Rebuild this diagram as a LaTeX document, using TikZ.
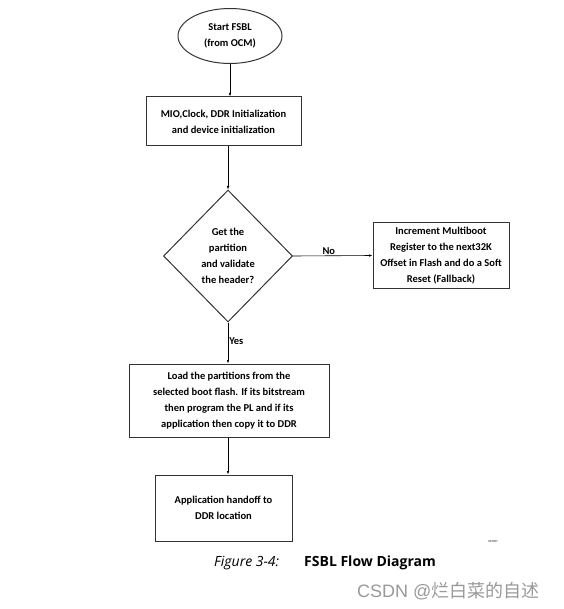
\documentclass[tikz,border=0pt]{standalone}
\usepackage{fontspec}
\setmainfont{Carlito}
\newfontfamily\capfont{Open Sans}
\newfontfamily\cjk{Noto Sans CJK SC}
\newfontfamily\markfont{Liberation Sans}
\usetikzlibrary{shapes.geometric,arrows.meta}

\begin{document}
\begin{tikzpicture}[x=1pt,y=-1pt,
  box/.style={draw=black!80,line width=1pt,align=center,inner sep=0pt,
    font=\bfseries\fontsize{10.5}{16}\selectfont},
  flow/.style={-{Latex[length=3.5pt,width=2.5pt]},line width=0.6pt},
  tag/.style={font=\bfseries\fontsize{10.5}{11}\selectfont,inner sep=1pt}]
\useasboundingbox (0,0) rectangle (563,609);

% Start and init
\node[box,ellipse,minimum width=104pt,minimum height=55pt] (start) at (230,36) {Start FSBL\\(from OCM)};
\node[box,minimum width=155pt,minimum height=49pt] (init) at (223.5,121.5) {MIO,Clock, DDR Initialization\\and device initialization};

% Decision and fallback
\node[box,diamond,minimum width=129pt,minimum height=132pt] (check) at (228,256) {Get the\\partition\\and validate\\the header?};
\node[box,minimum width=136pt,minimum height=65pt] (fallback) at (441,255.5) {Increment Multiboot\\Register to the next32K\\Offset in Flash and do a Soft\\Reset (Fallback)};

% Load and handoff
\node[box,minimum width=200pt,minimum height=73pt] (load) at (229,400.5) {Load the partitions from the\\selected boot flash. If its bitstream\\then program the PL and if its\\application then copy it to DDR};
\node[box,minimum width=137pt,minimum height=66pt] (handoff) at (223.5,508) {Application handoff to\\DDR location};

% Connectors
\draw[flow] (start.south) -- (start.south |- init.north);
\draw[flow] (init.south -| check.north) -- (check.north);
\draw[flow] (check.east) -- node[tag,above,pos=0.45] (no) {No} (fallback.west);
\draw[flow] (check.south) -- node[tag,right,pos=0.45] (yes) {Yes} (check.south |- load.north);
\draw[flow] (load.south -| check.south) -- (check.south |- handoff.north);

% Caption
\node[font=\fontsize{3}{3}\selectfont,inner sep=0pt] (code) at (493,542) {X15097};
\node[font=\capfont\itshape\fontsize{14}{14}\selectfont,anchor=west,inner sep=0pt] (fig) at (214,563) {Figure 3-4:};
\node[font=\capfont\bfseries\fontsize{14}{14}\selectfont,anchor=west,inner sep=0pt] (title) at (304,563) {FSBL Flow Diagram};
\node[font=\fontsize{18}{18}\selectfont,text=black!40,anchor=west,inner sep=0pt] (mark) at (357,591) {\markfont CSDN @\cjk 烂白菜的自述};
\end{tikzpicture}
\end{document}
